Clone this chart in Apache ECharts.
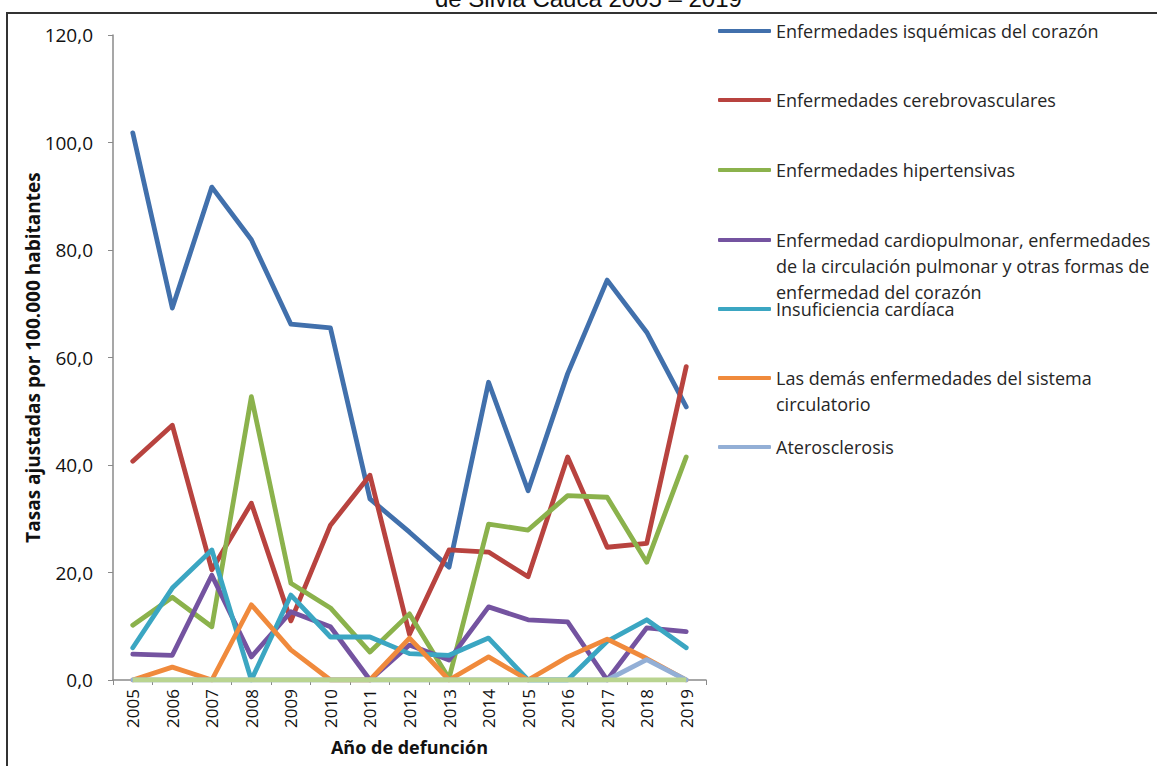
<!DOCTYPE html>
<html>
<head>
<meta charset="utf-8">
<script src="https://cdn.jsdelivr.net/npm/echarts@6/dist/echarts.min.js"></script>
<style>
html,body{margin:0;padding:0;background:#fff;}
#chart{width:1157px;height:766px;}
</style>
</head>
<body>
<div id="chart"></div>
<script>
const years = ['2005','2006','2007','2008','2009','2010','2011','2012','2013','2014','2015','2016','2017','2018','2019'];
const yTicks = [0, 20, 40, 60, 80, 100, 120];

const isquemicas      = [101.8, 69.2, 91.7, 81.9, 66.2, 65.5, 33.7, 27.5, 21.0, 55.4, 35.2, 57.0, 74.4, 64.7, 50.8];
const cerebrovasc     = [40.7, 47.4, 20.5, 32.9, 11.0, 28.8, 38.1, 8.5, 24.2, 23.8, 19.2, 41.5, 24.7, 25.4, 58.3];
const hipertensivas   = [10.2, 15.4, 9.9, 52.7, 18.0, 13.4, 5.2, 12.3, 0.3, 29.0, 27.9, 34.3, 34.0, 21.9, 41.5];
const cardiopulmonar  = [4.8, 4.6, 19.5, 4.3, 12.7, 9.9, 0.0, 6.5, 3.7, 13.6, 11.2, 10.8, 0.0, 9.7, 9.0];
const insuficiencia   = [6.0, 17.1, 24.2, 0.0, 15.8, 8.0, 8.0, 4.9, 4.6, 7.8, 0.0, 0.0, 7.2, 11.2, 6.0];
const demas           = [0.0, 2.4, 0.0, 14.0, 5.6, 0.0, 0.0, 7.8, 0.0, 4.3, 0.0, 4.3, 7.6, 4.0, 0.0];
const aterosclerosis  = [0, 0, 0, 0, 0, 0, 0, 0, 0, 0, 0, 0, 0, 3.8, 0];
const otraSerieCero   = [0, 0, 0, 0, 0, 0, 0, 0, 0, 0, 0, 0, 0, 0, 0];

const names = [
  'Enfermedades isquémicas del corazón',
  'Enfermedades cerebrovasculares',
  'Enfermedades hipertensivas',
  'Enfermedad cardiopulmonar, enfermedades de la circulación pulmonar y otras formas de enfermedad del corazón',
  'Insuficiencia cardíaca',
  'Las demás enfermedades del sistema circulatorio',
  'Aterosclerosis'
];
const legendLines = [
  ['Enfermedades isquémicas del corazón'],
  ['Enfermedades cerebrovasculares'],
  ['Enfermedades hipertensivas'],
  ['Enfermedad cardiopulmonar, enfermedades', 'de la circulación pulmonar y otras formas de', 'enfermedad del corazón'],
  ['Insuficiencia cardíaca'],
  ['Las demás enfermedades del sistema', 'circulatorio'],
  ['Aterosclerosis']
];
const dataSets = [isquemicas, cerebrovasc, hipertensivas, cardiopulmonar, insuficiencia, demas, aterosclerosis];
const colors = ['#4170AC', '#B8433F', '#8BB24C', '#7453A0', '#3BA6C2', '#F08A3C', '#93AFD6'];
const zeroColor = '#B9D490';

const legendCenters = [31, 100, 170, 240, 309, 378, 447];
const LH = 26;
const FONT = 'Open Sans';

const chart = echarts.init(document.getElementById('chart'), null, {renderer: 'svg'});

const series = dataSets.map((d, i) => ({
  name: names[i],
  type: 'line',
  data: d,
  showSymbol: false,
  symbol: 'none',
  lineStyle: {width: 4.8, color: colors[i], cap: 'round', join: 'round'},
  itemStyle: {color: colors[i]},
  emphasis: {disabled: true},
  z: 2 + i
}));
series.push({
  name: '_cero',
  type: 'line',
  data: otraSerieCero,
  symbol: 'none',
  lineStyle: {width: 4.8, color: zeroColor},
  itemStyle: {color: zeroColor},
  emphasis: {disabled: true},
  z: 10
});

const legends = names.map((n, i) => {
  const lines = legendLines[i];
  const pad = lines.length - 1;
  const text = '\n'.repeat(pad) + lines.join('\n');
  const total = lines.length + pad;
  return {
    data: [{name: n, icon: 'roundRect', itemStyle: {color: colors[i]}}],
    left: 718,
    top: legendCenters[i] - total * LH / 2,
    orient: 'vertical',
    padding: 0,
    itemWidth: 53,
    itemHeight: 4,
    selectedMode: false,
    formatter: () => text,
    textStyle: {fontFamily: FONT, fontSize: 18, color: '#262626', lineHeight: LH}
  };
});

const option = {
  animation: false,
  backgroundColor: '#fff',
  title: {
    text: 'de Silvia Cauca 2005 – 2019',
    left: 430,
    top: -19,
    textStyle: {fontFamily: 'Liberation Sans', fontSize: 24, fontWeight: 'normal', color: '#111'}
  },
  graphic: [{
    type: 'rect',
    shape: {x: 7, y: 13, width: 1300, height: 900},
    style: {fill: 'none', stroke: '#333', lineWidth: 2},
    silent: true
  }],
  legend: legends,
  grid: {left: 113, right: 451, top: 35, bottom: 86, containLabel: false},
  xAxis: {
    type: 'category',
    data: years,
    boundaryGap: true,
    name: 'Año de defunción',
    nameLocation: 'middle',
    nameGap: 58,
    nameMoveOverlap: false,
    nameTextStyle: {fontFamily: FONT, fontSize: 18, fontWeight: 'bold', color: '#111'},
    axisLine: {lineStyle: {color: '#8a8a8a', width: 1.5}},
    axisTick: {show: true, interval: 0, length: 5, lineStyle: {color: '#8a8a8a'}},
    axisLabel: {rotate: 90, interval: 0, margin: 9, fontFamily: FONT, fontSize: 17, color: '#111'},
    splitLine: {show: false}
  },
  yAxis: {
    type: 'value',
    min: yTicks[0],
    max: yTicks[yTicks.length - 1],
    interval: yTicks[1] - yTicks[0],
    name: 'Tasas ajustadas por 100.000 habitantes',
    nameLocation: 'middle',
    nameGap: 71,
    nameMoveOverlap: false,
    nameTextStyle: {fontFamily: FONT, fontSize: 19, fontWeight: 'bold', color: '#111'},
    axisLine: {show: true, lineStyle: {color: '#8a8a8a', width: 1.5}},
    axisTick: {show: true, length: 5, lineStyle: {color: '#8a8a8a'}},
    axisLabel: {margin: 20, fontFamily: FONT, fontSize: 19, color: '#111',
      formatter: v => v.toFixed(1).replace('.', ',')},
    splitLine: {show: false}
  },
  series: series
};
chart.setOption(option);
</script>
</body>
</html>
